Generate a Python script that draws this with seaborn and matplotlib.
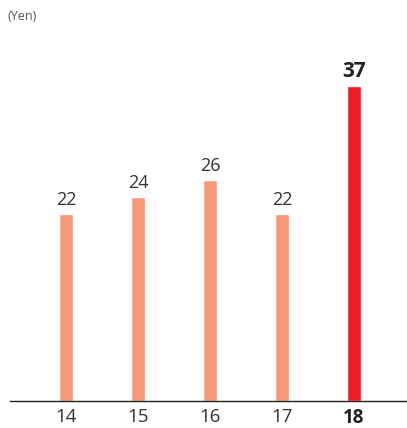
import matplotlib
matplotlib.use("Agg")
import matplotlib.pyplot as plt
import seaborn as sns
import pandas as pd

years = ["14", "15", "16", "17", "18"]
dividends = [22, 24, 26, 22, 37]
unit_label = "(Yen)"

sns.set_theme(style="white")
plt.rcParams["font.family"] = ["Open Sans", "DejaVu Sans"]

df = pd.DataFrame({"year": years, "value": dividends})
palette = ["#F79A7B"] * (len(years) - 1) + ["#EE1D25"]

fig = plt.figure(figsize=(4.07, 4.28), dpi=100)
ax = fig.add_axes([10 / 407, 27.5 / 428, 397 / 407, 380 / 428])

sns.barplot(data=df, x="year", y="value", hue="year", palette=palette,
            width=0.2, legend=False, ax=ax, saturation=1)

ax.set_xlim(-0.778, 4.736)
ax.set_ylim(0, 380 / 8.5)

text_color = "#333333"
last = len(years) - 1
for i, v in enumerate(dividends):
    bold = i == last
    ax.text(i, v + 0.5, f"{v}", ha="center", va="bottom",
            fontsize=15 if bold else 13, fontweight="bold" if bold else "normal",
            color="#222222" if bold else text_color)

ax.set_xticks(range(len(years)))
ax.set_xticklabels(years, fontsize=13.5, color=text_color)
ax.get_xticklabels()[last].set_fontweight("bold")
ax.get_xticklabels()[last].set_color("#222222")
ax.tick_params(axis="x", length=0, pad=5.5)
ax.set_yticks([])
ax.set_xlabel("")
ax.set_ylabel("")

for s in ["top", "left", "right"]:
    ax.spines[s].set_visible(False)
ax.spines["bottom"].set_color("#222222")
ax.spines["bottom"].set_linewidth(1.0)

fig.text(8 / 407, 1 - 17 / 428, unit_label, ha="left", va="center",
         fontsize=9, color="#555555")

fig.savefig("out.png", dpi=100)
